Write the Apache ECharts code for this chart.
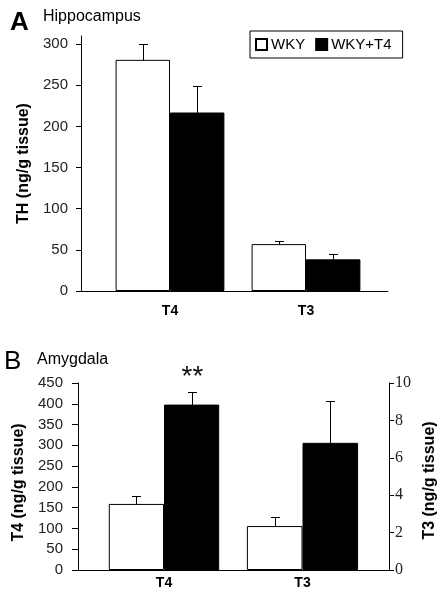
<!DOCTYPE html>
<html>
<head>
<meta charset="utf-8">
<script src="https://cdn.jsdelivr.net/npm/echarts@6/dist/echarts.min.js"></script>
<style>html,body{margin:0;padding:0;background:#fff;}#c{width:446px;height:600px;}</style>
</head>
<body>
<div id="c"></div>
<script>
// ---- Panel A: Hippocampus ----
const catsA = ['T4', 'T3'];
const wkyA = [281, 57];
const wkyT4A = [217, 38.5];
const wkyErrA = [19, 4];
const wkyT4ErrA = [32, 6.5];
const yTicksA = [0, 50, 100, 150, 200, 250, 300];

// ---- Panel B: Amygdala ----
const catsB = ['T4', 'T3'];
const wkyB = [159, 2.35];      // T4 on left axis, T3 on right axis
const wkyT4B = [398, 6.8];
const wkyErrB = [20, 0.47];
const wkyT4ErrB = [31, 2.25];
const sigWkyT4B = ['**', ''];

const legendNames = ['WKY', 'WKY+T4'];

const FONT = 'Liberation Sans';
const chart = echarts.init(document.getElementById('c'), null, {renderer: 'canvas'});

function errRender(sigArr) {
  return function (params, api) {
    const cat = api.value(0), v = api.value(1), e = api.value(2), side = api.value(3);
    const bw = api.size([1, 0])[0];
    const base = api.coord([cat, v]);
    const top = api.coord([cat, v + e]);
    const x = Math.round(base[0] + side * bw * 0.2) + 0.5;
    const yb = Math.round(base[1]) + 0.5, yt = Math.round(top[1]) + 0.5;
    const cap = 4.5;
    const children = [
      {type: 'line', shape: {x1: x, y1: yb, x2: x, y2: yt}, style: {stroke: '#000', lineWidth: 1}},
      {type: 'line', shape: {x1: x - cap, y1: yt, x2: x + cap, y2: yt}, style: {stroke: '#000', lineWidth: 1}}
    ];
    const s = sigArr ? sigArr(params.dataIndex, side) : '';
    if (s) {
      children.push({type: 'text', x: x, y: yt - 1,
        style: {text: s, font: '28px "' + FONT + '"', fill: '#111', align: 'center', verticalAlign: 'bottom'}});
    }
    return {type: 'group', children: children};
  };
}

const frameAxisX = (gi) => ({
  type: 'value', gridIndex: gi, min: 0, max: 1,
  axisLine: {show: true, lineStyle: {color: '#000', width: 1}},
  axisTick: {show: false}, axisLabel: {show: false}, splitLine: {show: false}
});
const catAxisX = (gi, data, margin) => ({
  type: 'category', gridIndex: gi, data: data,
  axisLine: {show: false}, axisTick: {show: false}, splitLine: {show: false},
  axisLabel: {color: '#000', fontFamily: FONT, fontWeight: 'bold', fontSize: 14, margin: margin}
});
const hiddenY = (gi, max) => ({type: 'value', gridIndex: gi, min: 0, max: max, show: false, splitLine: {show: false}});

const barStyleW = {color: '#fff', borderColor: '#000', borderWidth: 1};
const barStyleB = {color: '#000', borderColor: '#000', borderWidth: 1};

const option = {
  backgroundColor: '#fff',
  animation: false,
  title: [
    {text: 'A', left: 10, top: 10, padding: 0, textStyle: {fontFamily: FONT, fontSize: 26, fontWeight: 'bold', color: '#000'}},
    {text: 'Hippocampus', left: 43, top: 9, padding: 0, textStyle: {fontFamily: FONT, fontSize: 16, fontWeight: 'normal', color: '#000'}},
    {text: 'B', left: 4, top: 349, padding: 0, textStyle: {fontFamily: FONT, fontSize: 26, fontWeight: 'normal', color: '#000'}},
    {text: 'Amygdala', left: 37, top: 352, padding: 0, textStyle: {fontFamily: FONT, fontSize: 16, fontWeight: 'normal', color: '#000'}}
  ],
  legend: {
    data: legendNames,
    left: 250, top: 31,
    orient: 'horizontal',
    itemWidth: 11, itemHeight: 11, itemGap: 10,
    icon: 'rect',
    borderColor: '#000', borderWidth: 1, borderRadius: 0,
    padding: [6, 11, 6, 5],
    textStyle: {fontFamily: FONT, fontSize: 15, color: '#000', padding: [0, 0, 0, -1]},
    selectedMode: false
  },
  grid: [
    {left: 81, top: 36, width: 307, height: 255},
    {left: 102, top: 36, width: 272, height: 255},
    {left: 78, top: 383, width: 316, height: 187},
    {left: 95, top: 383, width: 138, height: 187},
    {left: 233, top: 383, width: 139, height: 187}
  ],
  xAxis: [
    frameAxisX(0),
    catAxisX(1, catsA, 13),
    frameAxisX(2),
    catAxisX(3, [catsB[0]], 6),
    catAxisX(4, [catsB[1]], 6)
  ],
  yAxis: [
    {type: 'value', gridIndex: 0, min: 0, max: 310, position: 'left',
      axisLine: {show: true, lineStyle: {color: '#000'}},
      axisTick: {show: true, length: 5, customValues: yTicksA, lineStyle: {color: '#000'}},
      axisLabel: {customValues: yTicksA, color: '#222', fontFamily: FONT, fontSize: 15, margin: 13},
      splitLine: {show: false},
      name: 'TH (ng/g tissue)', nameLocation: 'middle', nameGap: 49, nameRotate: 90,
      nameTextStyle: {fontFamily: FONT, fontWeight: 'bold', fontSize: 16, color: '#000'}},
    hiddenY(1, 310),
    {type: 'value', gridIndex: 2, min: 0, max: 450, interval: 50, position: 'left',
      axisLine: {show: true, lineStyle: {color: '#000'}},
      axisTick: {show: true, length: 6, lineStyle: {color: '#000'}},
      axisLabel: {color: '#222', fontFamily: FONT, fontSize: 15, margin: 15},
      splitLine: {show: false},
      name: 'T4 (ng/g tissue)', nameLocation: 'middle', nameGap: 47, nameRotate: 90,
      nameTextStyle: {fontFamily: FONT, fontWeight: 'bold', fontSize: 16, color: '#000', padding: [0, 12, 0, 0]}},
    {type: 'value', gridIndex: 2, min: 0, max: 10, interval: 2, position: 'right',
      axisLine: {show: true, lineStyle: {color: '#000'}},
      axisTick: {show: true, length: 5, lineStyle: {color: '#000'}},
      axisLabel: {color: '#222', fontFamily: 'Liberation Serif', fontSize: 16, margin: 6},
      splitLine: {show: false},
      name: 'T3 (ng/g tissue)', nameLocation: 'middle', nameGap: 25, nameRotate: 90,
      nameTextStyle: {fontFamily: FONT, fontWeight: 'bold', fontSize: 16, color: '#000', padding: [0, 8, 0, 0]}},
    hiddenY(3, 450),
    hiddenY(4, 10)
  ],
  series: [
    // Panel A bars
    {name: 'WKY', type: 'bar', xAxisIndex: 1, yAxisIndex: 1, data: wkyA, itemStyle: barStyleW, barGap: 0, barCategoryGap: '20%'},
    {name: 'WKY+T4', type: 'bar', xAxisIndex: 1, yAxisIndex: 1, data: wkyT4A, itemStyle: barStyleB, barGap: 0, barCategoryGap: '20%'},
    {type: 'custom', xAxisIndex: 1, yAxisIndex: 1, z: 5, renderItem: errRender(null),
      data: catsA.map((c, i) => [i, wkyA[i], wkyErrA[i], -1]).concat(catsA.map((c, i) => [i, wkyT4A[i], wkyT4ErrA[i], 1]))},
    // Panel B, T4 (left axis)
    {name: 'WKY', type: 'bar', xAxisIndex: 3, yAxisIndex: 4, data: [wkyB[0]], itemStyle: barStyleW, barGap: 0, barCategoryGap: '20%'},
    {name: 'WKY+T4', type: 'bar', xAxisIndex: 3, yAxisIndex: 4, data: [wkyT4B[0]], itemStyle: barStyleB, barGap: 0, barCategoryGap: '20%'},
    {type: 'custom', xAxisIndex: 3, yAxisIndex: 4, z: 5,
      renderItem: errRender((idx, side) => side > 0 ? sigWkyT4B[0] : ''),
      data: [[0, wkyB[0], wkyErrB[0], -1], [0, wkyT4B[0], wkyT4ErrB[0], 1]]},
    // Panel B, T3 (right axis)
    {name: 'WKY', type: 'bar', xAxisIndex: 4, yAxisIndex: 5, data: [wkyB[1]], itemStyle: barStyleW, barGap: 0, barCategoryGap: '20%'},
    {name: 'WKY+T4', type: 'bar', xAxisIndex: 4, yAxisIndex: 5, data: [wkyT4B[1]], itemStyle: barStyleB, barGap: 0, barCategoryGap: '20%'},
    {type: 'custom', xAxisIndex: 4, yAxisIndex: 5, z: 5,
      renderItem: errRender((idx, side) => side > 0 ? sigWkyT4B[1] : ''),
      data: [[0, wkyB[1], wkyErrB[1], -1], [0, wkyT4B[1], wkyT4ErrB[1], 1]]}
  ]
};
chart.setOption(option);
</script>
</body>
</html>
